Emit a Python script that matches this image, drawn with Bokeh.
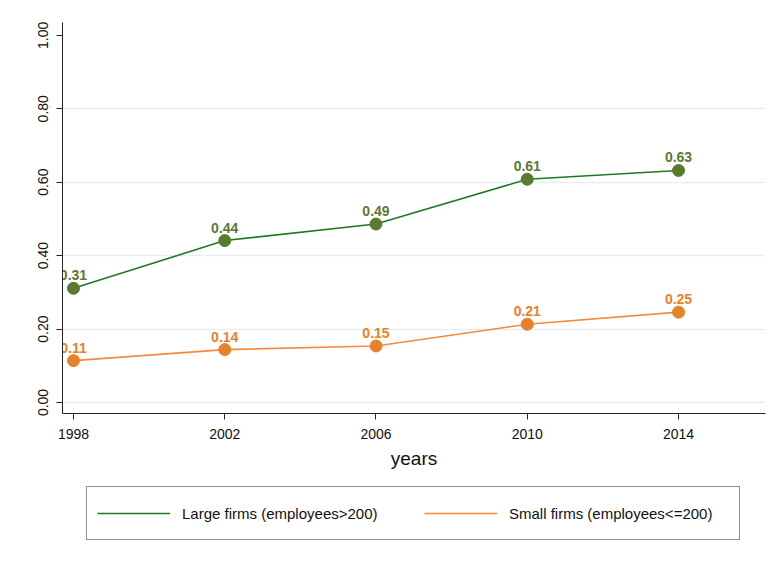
from bokeh.plotting import figure
from bokeh.models import (ColumnDataSource, FixedTicker, Legend, LegendItem,
                          NumeralTickFormatter)
from bokeh.layouts import column
from bokeh.core.properties import value
from bokeh.embed import file_html
from bokeh.resources import INLINE

# ---- data ----
years = [1998, 2002, 2006, 2010, 2014]
large_firms = [0.311, 0.441, 0.486, 0.608, 0.632]
small_firms = [0.114, 0.144, 0.154, 0.213, 0.246]
x_ticks = [1998, 2002, 2006, 2010, 2014]
y_ticks = [0.0, 0.2, 0.4, 0.6, 0.8, 1.0]
grid_ticks = [0.0, 0.2, 0.4, 0.6, 0.8]
large_label = "Large firms (employees>200)"
small_label = "Small firms (employees<=200)"
x_title = "years"

FONT = "Liberation Sans"
GREEN_LINE = "#1f7a22"
GREEN_MARK = "#5a7a30"
ORANGE_LINE = "#f58a3c"
ORANGE_MARK = "#e8822a"

src_l = ColumnDataSource(dict(x=years, y=large_firms,
                              t=[f"{v:.2f}" for v in large_firms]))
src_s = ColumnDataSource(dict(x=years, y=small_firms,
                              t=[f"{v:.2f}" for v in small_firms]))

p = figure(width=774, height=478, x_range=(1997.71, 2016.3), y_range=(-0.030, 1.035),
           output_backend="svg", toolbar_location=None,
           min_border_left=62, min_border_right=9, min_border_top=22, min_border_bottom=65)
p.outline_line_color = None
p.background_fill_color = "white"
p.border_fill_color = "white"

# grid
p.xgrid.visible = False
p.ygrid.ticker = FixedTicker(ticks=grid_ticks)
p.ygrid.grid_line_color = "#e6eef2"
p.ygrid.grid_line_width = 1.5

# axes
for ax in (p.xaxis[0], p.yaxis[0]):
    ax.axis_line_color = "#222222"
    ax.axis_line_width = 1
    ax.major_tick_line_color = "#222222"
    ax.major_tick_in = 0
    ax.major_tick_out = 6
    ax.minor_tick_line_color = None
    ax.major_label_text_font = FONT
    ax.major_label_text_font_size = "14px"
    ax.major_label_text_color = "#111111"

p.xaxis.ticker = FixedTicker(ticks=x_ticks)
p.xaxis.major_label_standoff = 9
p.xaxis.axis_label = x_title
p.xaxis.axis_label_text_font = FONT
p.xaxis.axis_label_text_font_size = "19px"
p.xaxis.axis_label_text_font_style = "normal"
p.xaxis.axis_label_text_color = "#111111"
p.xaxis.axis_label_standoff = 6

p.yaxis.ticker = FixedTicker(ticks=y_ticks)
p.yaxis.formatter = NumeralTickFormatter(format="0.00")
p.yaxis.major_label_orientation = "vertical"
p.yaxis.major_label_standoff = 8

# series
p.line("x", "y", source=src_l, line_color=GREEN_LINE, line_width=1.6)
p.scatter("x", "y", source=src_l, size=12, fill_color=GREEN_MARK, line_color=GREEN_MARK)
p.text("x", "y", text="t", source=src_l, text_font=value(FONT), text_font_style="bold",
       text_font_size="14px", text_color=GREEN_MARK, text_align="center",
       text_baseline="alphabetic", y_offset=-13)

p.line("x", "y", source=src_s, line_color=ORANGE_LINE, line_width=1.6)
p.scatter("x", "y", source=src_s, size=12, fill_color=ORANGE_MARK, line_color=ORANGE_MARK)
p.text("x", "y", text="t", source=src_s, text_font=value(FONT), text_font_style="bold",
       text_font_size="14px", text_color=ORANGE_MARK, text_align="center",
       text_baseline="alphabetic", y_offset=-13)

# legend panel (separate figure below the chart; its lines sit outside its view)
lg = figure(width=774, height=87, x_range=(0, 1), y_range=(0, 1),
            output_backend="svg", toolbar_location=None,
            x_axis_location=None, y_axis_location=None,
            min_border_left=62, min_border_right=9, min_border_top=0, min_border_bottom=0)
lg.outline_line_color = None
lg.grid.visible = False
lg.background_fill_color = "white"
lg.border_fill_color = "white"
r_l = lg.line("x", "y", source=src_l, line_color=GREEN_LINE, line_width=1.6)
r_s = lg.line("x", "y", source=src_s, line_color=ORANGE_LINE, line_width=1.6)

legend = Legend(items=[LegendItem(label=large_label, renderers=[r_l]),
                       LegendItem(label=small_label, renderers=[r_s])],
                orientation="horizontal", location=(24, 25),
                glyph_width=73, glyph_height=20, label_standoff=12,
                label_width=220, label_height=32, spacing=22, padding=10, margin=0,
                label_text_font=FONT, label_text_font_size="15px",
                label_text_color="#111111",
                border_line_color="#222222", border_line_width=1,
                background_fill_color="white", background_fill_alpha=1.0)
lg.add_layout(legend, "center")

layout = column(p, lg, spacing=0)
open("out.html", "w").write(file_html(layout, INLINE))
